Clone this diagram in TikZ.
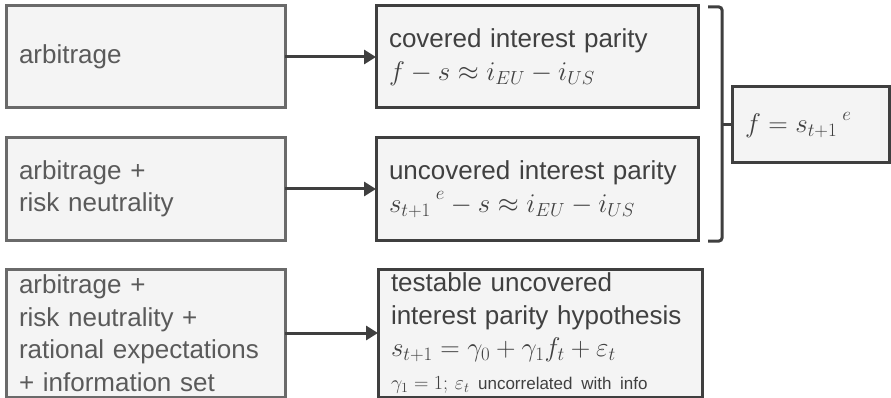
\documentclass[tikz,border=0pt]{standalone}
\usepackage{fix-cm}
\usepackage{fontspec}
\setmainfont{Liberation Sans}
\usetikzlibrary{arrows.meta, positioning, calc}
\definecolor{boxfill}{HTML}{F4F4F4}
\definecolor{edgegray}{HTML}{6A6A6A}
\definecolor{edgedark}{HTML}{3F3F3F}
\definecolor{txtgray}{HTML}{5A5A5A}
\definecolor{txtdark}{HTML}{404040}
\newcommand{\expsup}{^{\hspace{5pt}\raisebox{3pt}{$\scriptstyle e$}}}

\begin{document}
\begin{tikzpicture}[x=1pt, y=-1pt, >={Triangle[length=12pt, width=14pt]}, node distance=30pt,
    premise/.style={rectangle, draw=edgegray, line width=3pt, fill=boxfill, outer sep=0pt,
        minimum width=279pt, text width=253pt, inner xsep=13pt, inner ysep=2pt,
        align=left, text=txtgray, font=\fontsize{26}{32.5}\selectfont},
    result/.style={premise, draw=edgedark, text=txtdark},
    link/.style={->, draw=edgedark, line width=3pt}]
    \useasboundingbox (0,0) rectangle (891,398);

    % assumptions
    \node[premise, minimum height=102pt] (arb) at (145.5,57) {arbitrage};
    \node[premise, minimum height=102pt, below=30pt of arb] (arbrisk) {arbitrage +\\risk neutrality};
    \node[premise, minimum height=128pt, below=29pt of arbrisk] (arbfull)
        {arbitrage +\\risk neutrality +\\rational expectations\\+ information set};

    % parity conditions
    \node[result, minimum width=322pt, text width=296pt, minimum height=102pt, right=91pt of arb] (cip)
        {covered interest parity\\{\fontsize{27}{32.5}\selectfont$f-s\approx i_{EU}-i_{US}$}};
    \node[result, minimum width=322pt, text width=296pt, minimum height=102pt, right=91pt of arbrisk] (uip)
        {uncovered interest parity\\{\fontsize{27}{34}\selectfont${s_{t+1}}\expsup-s\approx i_{EU}-i_{US}$}};
    \node[result, minimum width=324pt, text width=298pt, minimum height=128pt, right=93pt of arbfull] (test)
        {testable uncovered\\interest parity hypothesis\\{\fontsize{27}{30}\selectfont$s_{t+1}=\gamma_0+\gamma_1 f_t+\varepsilon_t$}\\
        {\fontsize{20}{22}\selectfont$\gamma_1=1;\,\varepsilon_t$\fontsize{17}{20}\selectfont\ uncorrelated with info}};
    \node[result, minimum width=157pt, text width=131pt, minimum height=76pt] (fpar) at (810.5,125)
        {\fontsize{27}{32.5}\selectfont$f={s_{t+1}}\expsup$};

    \draw[link] (arb.east) -- (cip.west);
    \draw[link] (arbrisk.east) -- (uip.west);
    \draw[link] (arbfull.east) -- (test.west);

    % bracket joining both parities
    \coordinate (bracetop) at ($(cip.north east)+(10,1)$);
    \coordinate (bracebot) at ($(uip.south east)+(10,1)$);
    \path (bracetop) ++(14,0) coordinate (bracemid);
    \draw[edgedark, line width=3pt, rounded corners=3pt] (bracetop) -- (bracemid) |- (bracebot);
    \draw[edgedark, line width=3pt] (bracemid |- fpar.west) -- (fpar.west);
\end{tikzpicture}
\end{document}
